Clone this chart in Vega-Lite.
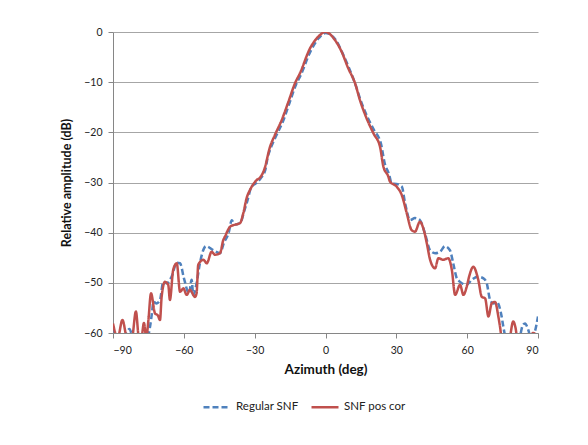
{
  "$schema": "https://vega.github.io/schema/vega-lite/v6.json",
  "autosize": "none",
  "width": 425,
  "height": 301,
  "padding": {"left": 113, "top": 32, "right": 50, "bottom": 112},
  "background": "white",
  "config": {
    "font": "Lato",
    "view": {"stroke": null},
    "axis": {
      "labelFont": "Lato", "labelFontSize": 10.5, "labelColor": "#222222",
      "titleFont": "Lato", "titleFontSize": 12.5, "titleFontWeight": "bold", "titleColor": "#111111",
      "domainColor": "#868686", "tickColor": "#868686", "tickSize": 5,
      "gridColor": "#A6A6A6", "gridWidth": 1
    },
    "legend": {"labelFont": "Lato", "labelFontSize": 11.5, "labelColor": "#222222"}
  },
  "data": {"values": [
    {"az": -90, "db": -58.7, "s": "Regular SNF"},
    {"az": -89, "db": -60.5, "s": "Regular SNF"},
    {"az": -86, "db": -61, "s": "Regular SNF"},
    {"az": -83, "db": -59.2, "s": "Regular SNF"},
    {"az": -81.5, "db": -61, "s": "Regular SNF"},
    {"az": -75.5, "db": -61, "s": "Regular SNF"},
    {"az": -74.3, "db": -58.7, "s": "Regular SNF"},
    {"az": -73.5, "db": -56, "s": "Regular SNF"},
    {"az": -72.9, "db": -53.8, "s": "Regular SNF"},
    {"az": -71.5, "db": -54.1, "s": "Regular SNF"},
    {"az": -70.1, "db": -53.4, "s": "Regular SNF"},
    {"az": -68.7, "db": -49.8, "s": "Regular SNF"},
    {"az": -67.3, "db": -50.1, "s": "Regular SNF"},
    {"az": -65.2, "db": -48.8, "s": "Regular SNF"},
    {"az": -63.0, "db": -46.0, "s": "Regular SNF"},
    {"az": -61.6, "db": -46.1, "s": "Regular SNF"},
    {"az": -60, "db": -49, "s": "Regular SNF"},
    {"az": -57.8, "db": -52.1, "s": "Regular SNF"},
    {"az": -56.7, "db": -49.4, "s": "Regular SNF"},
    {"az": -56.0, "db": -52.4, "s": "Regular SNF"},
    {"az": -54.6, "db": -50.1, "s": "Regular SNF"},
    {"az": -53.2, "db": -46.1, "s": "Regular SNF"},
    {"az": -50.6, "db": -42.7, "s": "Regular SNF"},
    {"az": -47.5, "db": -43.5, "s": "Regular SNF"},
    {"az": -44.7, "db": -44.1, "s": "Regular SNF"},
    {"az": -43, "db": -42, "s": "Regular SNF"},
    {"az": -41, "db": -40, "s": "Regular SNF"},
    {"az": -39.7, "db": -37.5, "s": "Regular SNF"},
    {"az": -38.5, "db": -38.4, "s": "Regular SNF"},
    {"az": -36, "db": -38, "s": "Regular SNF"},
    {"az": -34.5, "db": -35.8, "s": "Regular SNF"},
    {"az": -33, "db": -33.5, "s": "Regular SNF"},
    {"az": -31.5, "db": -31, "s": "Regular SNF"},
    {"az": -29, "db": -30, "s": "Regular SNF"},
    {"az": -27.5, "db": -29.2, "s": "Regular SNF"},
    {"az": -25.5, "db": -27.5, "s": "Regular SNF"},
    {"az": -24.5, "db": -25, "s": "Regular SNF"},
    {"az": -23, "db": -22.9, "s": "Regular SNF"},
    {"az": -21, "db": -20.8, "s": "Regular SNF"},
    {"az": -18, "db": -17.8, "s": "Regular SNF"},
    {"az": -15.3, "db": -14.2, "s": "Regular SNF"},
    {"az": -12.5, "db": -10.5, "s": "Regular SNF"},
    {"az": -10.5, "db": -8.6, "s": "Regular SNF"},
    {"az": -6.3, "db": -3.8, "s": "Regular SNF"},
    {"az": -2.8, "db": -1.2, "s": "Regular SNF"},
    {"az": 0, "db": -0.2, "s": "Regular SNF"},
    {"az": 4.2, "db": -1.5, "s": "Regular SNF"},
    {"az": 7, "db": -4, "s": "Regular SNF"},
    {"az": 9.8, "db": -7, "s": "Regular SNF"},
    {"az": 12.7, "db": -10.5, "s": "Regular SNF"},
    {"az": 14.8, "db": -13.5, "s": "Regular SNF"},
    {"az": 17.6, "db": -16.8, "s": "Regular SNF"},
    {"az": 20.5, "db": -19.5, "s": "Regular SNF"},
    {"az": 23.5, "db": -22.3, "s": "Regular SNF"},
    {"az": 25, "db": -26, "s": "Regular SNF"},
    {"az": 27, "db": -28.5, "s": "Regular SNF"},
    {"az": 28.0, "db": -30.2, "s": "Regular SNF"},
    {"az": 30, "db": -30.3, "s": "Regular SNF"},
    {"az": 32.3, "db": -30.8, "s": "Regular SNF"},
    {"az": 33.7, "db": -34.1, "s": "Regular SNF"},
    {"az": 35.8, "db": -37.5, "s": "Regular SNF"},
    {"az": 37.9, "db": -37.1, "s": "Regular SNF"},
    {"az": 40.0, "db": -37.5, "s": "Regular SNF"},
    {"az": 42.1, "db": -40.1, "s": "Regular SNF"},
    {"az": 44.3, "db": -43.5, "s": "Regular SNF"},
    {"az": 46.4, "db": -44.1, "s": "Regular SNF"},
    {"az": 48.5, "db": -43.8, "s": "Regular SNF"},
    {"az": 50.6, "db": -42.7, "s": "Regular SNF"},
    {"az": 52.7, "db": -43.5, "s": "Regular SNF"},
    {"az": 54.1, "db": -46.1, "s": "Regular SNF"},
    {"az": 55.6, "db": -49.1, "s": "Regular SNF"},
    {"az": 57.0, "db": -49.8, "s": "Regular SNF"},
    {"az": 59.8, "db": -50.4, "s": "Regular SNF"},
    {"az": 61.9, "db": -49.4, "s": "Regular SNF"},
    {"az": 64.7, "db": -48.8, "s": "Regular SNF"},
    {"az": 66.9, "db": -49.1, "s": "Regular SNF"},
    {"az": 68.3, "db": -50.1, "s": "Regular SNF"},
    {"az": 69.7, "db": -53.4, "s": "Regular SNF"},
    {"az": 71.1, "db": -54.1, "s": "Regular SNF"},
    {"az": 72.5, "db": -53.8, "s": "Regular SNF"},
    {"az": 74.6, "db": -56.7, "s": "Regular SNF"},
    {"az": 75.3, "db": -58.7, "s": "Regular SNF"},
    {"az": 76.5, "db": -61, "s": "Regular SNF"},
    {"az": 82, "db": -61, "s": "Regular SNF"},
    {"az": 83.5, "db": -58.5, "s": "Regular SNF"},
    {"az": 84.5, "db": -58.1, "s": "Regular SNF"},
    {"az": 85.9, "db": -59.4, "s": "Regular SNF"},
    {"az": 87, "db": -61, "s": "Regular SNF"},
    {"az": 88.5, "db": -60, "s": "Regular SNF"},
    {"az": 90, "db": -56.7, "s": "Regular SNF"},

    {"az": -90, "db": -58.1, "s": "SNF pos cor"},
    {"az": -88, "db": -61, "s": "SNF pos cor"},
    {"az": -86, "db": -57.4, "s": "SNF pos cor"},
    {"az": -84, "db": -61, "s": "SNF pos cor"},
    {"az": -82, "db": -61, "s": "SNF pos cor"},
    {"az": -80.3, "db": -55.7, "s": "SNF pos cor"},
    {"az": -79, "db": -61, "s": "SNF pos cor"},
    {"az": -78, "db": -61, "s": "SNF pos cor"},
    {"az": -76.9, "db": -58, "s": "SNF pos cor"},
    {"az": -75.9, "db": -61, "s": "SNF pos cor"},
    {"az": -75, "db": -57.4, "s": "SNF pos cor"},
    {"az": -73.9, "db": -52.1, "s": "SNF pos cor"},
    {"az": -72.2, "db": -56.1, "s": "SNF pos cor"},
    {"az": -71, "db": -56.5, "s": "SNF pos cor"},
    {"az": -70.1, "db": -57.4, "s": "SNF pos cor"},
    {"az": -69.4, "db": -52.8, "s": "SNF pos cor"},
    {"az": -68, "db": -49.8, "s": "SNF pos cor"},
    {"az": -66.6, "db": -50.4, "s": "SNF pos cor"},
    {"az": -65.9, "db": -53.4, "s": "SNF pos cor"},
    {"az": -64.5, "db": -47.4, "s": "SNF pos cor"},
    {"az": -63, "db": -46.1, "s": "SNF pos cor"},
    {"az": -61.6, "db": -51.8, "s": "SNF pos cor"},
    {"az": -60.2, "db": -51.1, "s": "SNF pos cor"},
    {"az": -58.8, "db": -52.4, "s": "SNF pos cor"},
    {"az": -57.4, "db": -51.4, "s": "SNF pos cor"},
    {"az": -55.3, "db": -52.8, "s": "SNF pos cor"},
    {"az": -54.6, "db": -52.1, "s": "SNF pos cor"},
    {"az": -53.9, "db": -46.4, "s": "SNF pos cor"},
    {"az": -51.7, "db": -45.4, "s": "SNF pos cor"},
    {"az": -50.3, "db": -46.1, "s": "SNF pos cor"},
    {"az": -48.2, "db": -43.8, "s": "SNF pos cor"},
    {"az": -46.8, "db": -44.4, "s": "SNF pos cor"},
    {"az": -44.7, "db": -44.1, "s": "SNF pos cor"},
    {"az": -43.3, "db": -41.5, "s": "SNF pos cor"},
    {"az": -42.6, "db": -40.8, "s": "SNF pos cor"},
    {"az": -40.4, "db": -38.8, "s": "SNF pos cor"},
    {"az": -39.0, "db": -38.5, "s": "SNF pos cor"},
    {"az": -36.2, "db": -38.1, "s": "SNF pos cor"},
    {"az": -34.8, "db": -36.1, "s": "SNF pos cor"},
    {"az": -33.4, "db": -33.1, "s": "SNF pos cor"},
    {"az": -32.0, "db": -31.5, "s": "SNF pos cor"},
    {"az": -29.1, "db": -29.5, "s": "SNF pos cor"},
    {"az": -27.7, "db": -29.0, "s": "SNF pos cor"},
    {"az": -26.0, "db": -27.5, "s": "SNF pos cor"},
    {"az": -23.5, "db": -22.9, "s": "SNF pos cor"},
    {"az": -21.4, "db": -20.5, "s": "SNF pos cor"},
    {"az": -18.5, "db": -17.5, "s": "SNF pos cor"},
    {"az": -15.7, "db": -13.9, "s": "SNF pos cor"},
    {"az": -12.9, "db": -10.2, "s": "SNF pos cor"},
    {"az": -10.8, "db": -8.2, "s": "SNF pos cor"},
    {"az": -6.6, "db": -3.3, "s": "SNF pos cor"},
    {"az": -3.0, "db": -0.9, "s": "SNF pos cor"},
    {"az": 0, "db": 0, "s": "SNF pos cor"},
    {"az": 4.0, "db": -1.6, "s": "SNF pos cor"},
    {"az": 6.8, "db": -3.9, "s": "SNF pos cor"},
    {"az": 9.6, "db": -7.2, "s": "SNF pos cor"},
    {"az": 12.5, "db": -10.2, "s": "SNF pos cor"},
    {"az": 14.6, "db": -13.6, "s": "SNF pos cor"},
    {"az": 17.4, "db": -17.2, "s": "SNF pos cor"},
    {"az": 20.3, "db": -20.2, "s": "SNF pos cor"},
    {"az": 23.1, "db": -22.9, "s": "SNF pos cor"},
    {"az": 24.5, "db": -26.8, "s": "SNF pos cor"},
    {"az": 26.6, "db": -28.8, "s": "SNF pos cor"},
    {"az": 27.3, "db": -29.8, "s": "SNF pos cor"},
    {"az": 30.1, "db": -30.8, "s": "SNF pos cor"},
    {"az": 32.3, "db": -32.5, "s": "SNF pos cor"},
    {"az": 34.4, "db": -36.1, "s": "SNF pos cor"},
    {"az": 36.5, "db": -39.5, "s": "SNF pos cor"},
    {"az": 37.9, "db": -39.8, "s": "SNF pos cor"},
    {"az": 40.0, "db": -37.8, "s": "SNF pos cor"},
    {"az": 41.4, "db": -39.1, "s": "SNF pos cor"},
    {"az": 42.9, "db": -42.1, "s": "SNF pos cor"},
    {"az": 44.3, "db": -45.4, "s": "SNF pos cor"},
    {"az": 46.4, "db": -47.1, "s": "SNF pos cor"},
    {"az": 47.8, "db": -45.1, "s": "SNF pos cor"},
    {"az": 49.9, "db": -45.4, "s": "SNF pos cor"},
    {"az": 52.0, "db": -45.1, "s": "SNF pos cor"},
    {"az": 53.5, "db": -47.4, "s": "SNF pos cor"},
    {"az": 54.9, "db": -52.4, "s": "SNF pos cor"},
    {"az": 57.0, "db": -50.4, "s": "SNF pos cor"},
    {"az": 58.4, "db": -52.4, "s": "SNF pos cor"},
    {"az": 59.8, "db": -50.8, "s": "SNF pos cor"},
    {"az": 60.8, "db": -48.8, "s": "SNF pos cor"},
    {"az": 62.6, "db": -46.8, "s": "SNF pos cor"},
    {"az": 64.7, "db": -49.4, "s": "SNF pos cor"},
    {"az": 66.2, "db": -52.8, "s": "SNF pos cor"},
    {"az": 67.6, "db": -53.1, "s": "SNF pos cor"},
    {"az": 69.0, "db": -56.7, "s": "SNF pos cor"},
    {"az": 70.4, "db": -54.1, "s": "SNF pos cor"},
    {"az": 71.8, "db": -53.8, "s": "SNF pos cor"},
    {"az": 73.2, "db": -56.7, "s": "SNF pos cor"},
    {"az": 73.9, "db": -58.7, "s": "SNF pos cor"},
    {"az": 75, "db": -62, "s": "SNF pos cor"},
    {"az": 77.5, "db": -62, "s": "SNF pos cor"},
    {"az": 79.5, "db": -57.7, "s": "SNF pos cor"},
    {"az": 80.5, "db": -59, "s": "SNF pos cor"},
    {"az": 81.5, "db": -62, "s": "SNF pos cor"},
    {"az": 85, "db": -62, "s": "SNF pos cor"},
    {"az": 88, "db": -60, "s": "SNF pos cor"},
    {"az": 90, "db": -61, "s": "SNF pos cor"}
  ]},
  "mark": {"type": "line", "clip": true, "strokeWidth": 2.5, "interpolate": "monotone"},
  "encoding": {
    "x": {"field": "az", "type": "quantitative", "title": "Azimuth (deg)",
      "scale": {"domain": [-90, 90], "nice": false},
      "axis": {"values": [-90, -60, -30, 0, 30, 60, 90], "grid": false, "labelPadding": 7, "titlePadding": 7, "titleFontSize": 13.5}},
    "y": {"field": "db", "type": "quantitative", "title": "Relative amplitude (dB)",
      "scale": {"domain": [-60, 0], "nice": false},
      "axis": {"values": [0, -10, -20, -30, -40, -50, -60], "grid": true, "labelPadding": 6, "titlePadding": 10}},
    "color": {"field": "s", "type": "nominal", "title": null,
      "scale": {"domain": ["Regular SNF", "SNF pos cor"], "range": ["#4F81BD", "#C0504D"]},
      "legend": {"orient": "none", "legendX": 89, "legendY": 360, "direction": "horizontal", "symbolType": "stroke", "symbolSize": 729, "symbolStrokeWidth": 2.5, "labelOffset": 4, "columnPadding": 7}},
    "strokeDash": {"field": "s", "type": "nominal", "title": null,
      "scale": {"domain": ["Regular SNF", "SNF pos cor"], "range": [[6, 3], [1, 0]]},
      "legend": {"orient": "none", "legendX": 89, "legendY": 360, "direction": "horizontal", "symbolType": "stroke", "symbolSize": 729, "symbolStrokeWidth": 2.5, "labelOffset": 4, "columnPadding": 7}}
  }
}
